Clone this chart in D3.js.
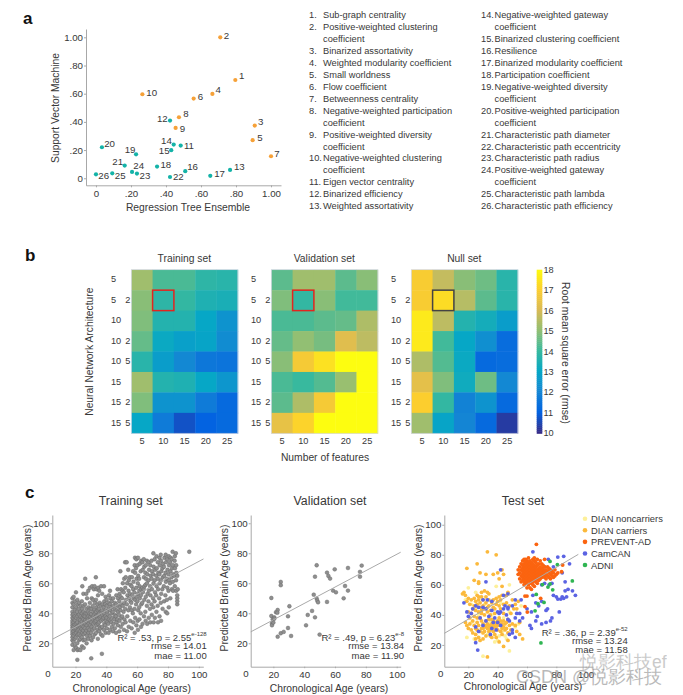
<!DOCTYPE html>
<html><head><meta charset="utf-8">
<script src="https://cdnjs.cloudflare.com/ajax/libs/d3/7.8.5/d3.min.js"></script>
<style>html,body{margin:0;padding:0;background:#fff}svg{display:block}text{font-family:"Liberation Sans",Arial,sans-serif;fill:#383838}</style>
</head><body><svg id="c" width="683" height="695"></svg>
<script>
// ---------- Panel a data
const metricX=[.796,.71,.907,.665,.895,.558,1,.474,.455,.265,.484,.423,.766,.444,.43,.51,.653,.349,.229,.034,.164,.423,.234,.206,.093,0];
const metricY=[.697,1,.374,.598,.27,.565,.156,.433,.357,.596,.232,.409,.059,.239,.199,.05,.017,.083,.17,.22,.09,.009,.033,.045,.035,.028];
const metricGroup=[0,0,0,0,0,0,0,0,0,0,1,1,1,1,1,1,1,1,1,1,1,1,1,1,1,1];
const labelDX=[6.3,6.3,6,5.7,7.3,6.7,6,7,6.7,9.3,8.3,-7.7,9.3,-7.3,-7,7.3,9.3,8.7,-6,7.7,-7,8.3,8,6.7,8,7.7];
const labelDY=[-4.3,-2,-4.3,-4.7,-3,-2,-2.7,-4,1,-2,0,-2,-3.3,-3.7,.3,-4.3,-2.3,-1.7,-4.7,-3.7,-4.3,-.3,2,-6.3,1.7,1.3];
const axisTicksA=[0,.2,.4,.6,.8,1];
const axisTickTextA=["0",".20",".40",".60",".80","1.00"];
const listLeft=[["1.","Sub-graph centrality"],["2.","Positive-weighted clustering","coefficient"],["3.","Binarized assortativity"],["4.","Weighted modularity coefficient"],["5.","Small worldness"],["6.","Flow coefficient"],["7.","Betweenness centrality"],["8.","Negative-weighted participation","coefficient"],["9.","Positive-weighted diversity","coefficient"],["10.","Negative-weighted clustering","coefficient"],["11.","Eigen vector centrality"],["12.","Binarized efficiency"],["13.","Weighted assortativity"]];
const listRight=[["14.","Negative-weighted gateway","coefficient"],["15.","Binarized clustering coefficient"],["16.","Resilience"],["17.","Binarized modularity coefficient"],["18.","Participation coefficient"],["19.","Negative-weighted diversity","coefficient"],["20.","Positive-weighted participation","coefficient"],["21.","Characteristic path diameter"],["22.","Characteristic path eccentricity"],["23.","Characteristic path radius"],["24.","Positive-weighted gateway","coefficient"],["25.","Characteristic path lambda"],["26.","Characteristic path efficiency"]];
// ---------- Panel b data
const features=[5,10,15,20,25];
const layerOne=["5","5","10","10","10","15","15","15"];
const layerTwo=["","2","","2","5","","2","5"];
const rmseTraining=[[15.2,14.2,14.2,13.8,13.7],[14.9,13.8,13.9,13.5,13.4],[14.8,13.6,13.6,13.0,12.4],[14.5,13.1,12.8,12.9,12.2],[13.7,12.7,12.1,11.6,11.5],[15.2,13.6,13.5,13.0,12.5],[14.8,12.4,12.4,11.7,11.2],[13.0,11.7,10.7,11.0,11.2]];
const rmseValidation=[[14.4,15.2,15.2,14.4,14.9],[14.8,13.9,14.9,14.1,14.1],[14.2,14.2,14.4,14.5,15.4],[14.5,15.0,14.7,16.2,15.6],[14.9,16.8,17.4,18,18],[14.2,14.0,14.3,15.1,18],[14.4,15.4,16.8,18,18],[16.4,17.1,18,18,18]];
const rmseNull=[[16.9,15.7,14.9,14.6,13.7],[16.9,17.3,15.5,14.4,13.7],[17.6,15.6,13.6,13.3,12.7],[17.6,14.1,13.0,12.3,11.3],[15.4,14.3,13.1,11.2,11.3],[16.3,14.8,13.2,14.6,12.1],[17.0,13.9,11.9,12.4,11.2],[15.2,12.9,12.0,11.2,10.3]];
const parulaColors=["#352a87","#0363e1","#1485d4","#06a7c6","#38b99e","#92bf73","#d9ba56","#fcce2e","#fdfd10"];
const rmseTicks=[10,11,12,13,14,15,16,17,18];
// ---------- Panel c data
const ageTicks=[20,40,60,80,100];
const trainPoints=[[18,19],[18,22],[18,24],[18,26],[18,27.5],[18,29],[18,30.5],[18,32],[18,33.5],[18,35],[18,37],[18,39],[18,41],[18,44],[18,47],[18,50],
[18.8,15.5],[18.8,21],[18.8,25],[18.8,28],[18.8,31],[18.8,34],[18.8,36.5],[18.8,39.5],[18.8,46],[18.8,51],
[19.6,18],[19.6,23],[19.6,26.5],[19.6,29.5],[19.6,32.5],[19.6,35.5],[19.6,38],[19.6,42.5],[19.6,48],
[20.4,17],[20.3,24],[20.5,27],[20.2,30],[20.6,33],[20.4,37],[20.2,40],[20.5,44],[20.3,54],
[21.2,9],[21.3,15.5],[21.1,20],[21.4,25.5],[21.2,28.5],[21.5,31.5],[21.2,34],[21.3,38],[21.1,41],[21.4,46],[21.2,49],
[22.1,16],[22.3,22],[22.2,26],[22,29],[22.4,32],[22.1,36],[22.3,39],[22.2,43],[22.4,47],
[23.2,15.5],[23,23],[23.3,25],[23.1,28],[23.4,30.5],[23.2,33.5],[23,35.5],[23.3,38],[23.1,41],[23.4,45],
[24.2,18],[24.1,24],[24.4,27],[24,29.5],[24.3,32],[24.1,34.5],[24.5,37],[24.2,40],[24.3,43],[24.1,48],[24.4,58],
[25.3,17],[25.1,22],[25.4,26],[25,28.5],[25.2,31],[25.5,33.5],[25.1,36],[25.4,38.5],[25.2,41],[25.3,45],[25.1,53],
[26.2,22.5],[26.4,27],[26.1,30],[26.5,33],[26.3,35.5],[26.1,38],[26.4,40],[26.2,46],[26.3,63],
[27.2,20],[27.5,25],[27.1,28.5],[27.4,32],[27.2,34.5],[27.6,37],[27.3,40],[27.1,43],[27.5,50],[27,53],
[28.3,23],[28.5,27],[28.1,30],[28.6,33],[28.2,36],[28.4,38],[28.2,41],[28.5,44],[28.3,55],
[29.4,25],[29.1,29],[29.6,32],[29.3,35],[29.5,37.5],[29.2,40],[29.6,43],[29.3,47],[29.4,57],
[30.2,10],[30.4,22],[30.1,27],[30.5,31],[30.3,34],[30.6,37],[30.2,39.5],[30.4,43],[30.5,50],[30.8,58],
[31.4,24],[31.1,29],[31.6,33],[31.3,36],[31.7,38],[31.5,41],[31.2,45],[31.4,49],[31.9,56],
[32.5,26],[32.2,30],[32.7,34],[32.4,37],[32.8,40],[32.3,42.5],[32.6,47],[32.4,58],
[33.3,27],[33.6,32],[33.2,35],[33.7,38],[33.4,41],[33.6,44],[33.3,49],[33.2,64],[33.7,56],
[34.5,23],[34.3,29],[34.7,33],[34.4,36],[34.8,39],[34.5,42],[34.3,46],[34.6,52],[34.8,57],
[35.4,28],[35.7,31],[35.3,34],[35.8,37],[35.5,40],[35.2,43],[35.7,47],[35.4,55],
[36.5,26],[36.2,30],[36.7,35],[36.4,38],[36.8,41],[36.3,45],[36.6,58],
[37.1,13],[37.5,25],[37.3,31],[37.7,36],[37.4,39],[37.2,42],[37.6,46],[37.3,53],
[38.4,29],[38.7,33],[38.2,37],[38.6,40],[38.3,44],[38.7,48],[38.5,58],
[39.5,27],[39.2,32],[39.7,35],[39.4,38],[39.6,42],[39.3,46],[39.5,51],
[40.3,30],[40.6,34],[40.2,37],[40.7,41],[40.4,45],[40.2,49],
[41.5,27],[41.3,33],[41.7,36],[41.2,39],[41.6,43],[41.4,47],[41.7,52],
[42.4,29],[42.7,35],[42.2,38],[42.6,42],[42.3,46],[42.7,50],[42.4,55],
[43.6,31],[43.3,34],[43.7,40],[43.2,44],[43.5,48],
[44.3,28],[44.7,33],[44.4,37],[44.2,41],[44.6,45],[44.4,50],
[45.5,30],[45.3,36],[45.7,39],[45.4,43],[45.6,47],
[46.3,27],[46.6,34],[46.2,38],[46.7,42],[46.4,46],[46.5,52],
[47.5,32],[47.2,36],[47.7,41],[47.3,45],[47.6,50],[47.3,56],
[48.4,28],[48.6,35],[48.2,39],[48.7,44],[48.4,48],[48.6,53],
[49.1,68],[49.4,31],[49.6,37],[49.2,42],[49.7,46],[49.3,51],[49.5,56],
[50.6,33],[50.3,38],[50.7,45],[50.2,50],[50.5,55],[50.7,60],
[51.4,29],[51.7,36],[51.2,41],[51.6,47],[51.3,54],[51.6,63],
[52.5,34],[52.2,43],[52.7,49],[52.3,57],[52.6,64],[52.2,74],
[53.4,28],[53.6,38],[53.3,46],[53.7,52],[53.5,60],[53.2,74],
[54.5,31],[54.3,42],[54.7,50],[54.4,55],[54.6,62],[54.2,69],
[55.5,35],[55.3,44],[55.7,48],[55.4,53],[55.6,59],[55.3,64],
[56.4,30],[56.6,42],[56.2,47],[56.7,52],[56.4,58],[56.6,64],
[57.5,34],[57.2,40],[57.7,50],[57.4,56],[57.6,61],[57.3,68],
[58.4,27],[58.7,37],[58.3,43],[58.6,49],[58.2,54],[58.7,67],[58.4,72],[58.6,77],
[59.5,32],[59.3,46],[59.7,51],[59.4,57],[59.6,63],[59.2,70],[59.5,76],
[60.5,29],[60.3,35],[60.7,42],[60.2,48],[60.6,53],[60.4,60],[60.7,65],[60.3,72],[60.5,77],
[61.5,36],[61.3,44],[61.7,50],[61.4,55],[61.6,58],[61.3,63],[61.7,73],
[62.5,31],[62.3,40],[62.7,46],[62.4,52],[62.6,56],[62.3,68],[62.6,75],
[63.5,33],[63.3,47],[63.7,54],[63.4,57],[63.6,69],[63.4,74],
[64.4,38],[64.6,49],[64.3,56],[64.7,58],[64.4,64],[64.6,71],[64.3,76],
[65.5,35],[65.3,41],[65.6,51],[65.4,59],[65.7,63],[65.3,67],[65.6,72],
[66.5,33],[66.3,45],[66.7,53],[66.4,60],[66.6,66],[66.3,75],
[67.5,37],[67.3,48],[67.6,55],[67.4,62],[67.7,69],[67.4,74],
[68.5,34],[68.3,43],[68.6,52],[68.4,58],[68.7,65],[68.5,72],
[69.5,39],[69.3,46],[69.6,56],[69.4,63],[69.6,68],[69.3,75],
[70.7,34],[70.5,44],[70.3,50],[70.6,60],[70.4,66],[70.7,71],[70.5,80],
[71.5,37],[71.3,48],[71.6,54],[71.4,62],[71.7,69],[71.3,76],
[72.5,41],[72.3,52],[72.6,58],[72.4,65],[72.7,70],[72.5,78],
[73.5,34],[73.3,45],[73.6,56],[73.4,63],[73.7,67],[73.4,74],
[74.5,38],[74.3,50],[74.6,60],[74.4,66],[74.7,72],[74.5,77],
[75.5,35],[75.3,47],[75.6,53],[75.4,62],[75.7,68],[75.5,75],[75.3,79],
[76.5,43],[76.3,56],[76.6,64],[76.4,70],[76.7,73],
[77.5,48],[77.3,58],[77.6,65],[77.4,71],[77.7,77],
[78.5,41],[78.3,52],[78.6,61],[78.4,67],[78.7,74],[78.5,79],
[79.5,40],[79.3,49],[79.6,57],[79.4,63],[79.7,69],[79.5,76],
[80.5,44],[80.3,55],[80.6,62],[80.4,66],[80.7,72],[80.5,78],
[81.5,50],[81.3,60],[81.6,68],[81.4,74],[81.7,77],
[82.5,56],[82.3,64],[82.6,70],[82.4,76],
[83.3,55],[83.1,61],[83.4,66],[83.2,72],[83,81],
[84.4,58],[84.2,65],[84.5,70],[84.3,75],[84.4,78],
[85.3,55],[85.2,62],[85.4,67],[85.3,72],[85.1,80],
[86,46],[86,48],[86,50],[86,52],[86.3,56],[86,65],[93.8,81]];
const validationPoints=[[18.7,50.2],[18.7,38.2],[19.6,36],[20.6,37.3],[20.6,36.4],[19.1,33.3],[19.1,32],[20,33.8],[21.7,40.7],[22.8,42.2],[22.6,40.4],[24.8,60.9],[24.8,58.7],[30.4,44.7],[29.5,38],[29.5,30.2],[24.8,26.7],[26.7,27.6],[22.8,24.4],[31.5,24.9],[41.2,32],[42.3,38.9],[45.1,41.6],[47,37.3],[46.2,52.4],[48.1,49.8],[48.5,48.4],[49,47.3],[47,64.4],[48.1,72],[54.8,67.1],[55.7,64.9],[56.8,63.1],[54.8,47.6],[58.7,55.1],[60.6,54],[59.8,69.3],[65.6,50],[66.5,58.2],[68.4,55.1],[68.4,70.2],[76.2,64.4],[76.2,67.6],[77.3,71.8],[50,25.8]];
const noncarriers=[[30,12.5],[48,16],[24,24],[19,25],[48,60],[39,59],[20,58],[26,45],[22,47],[28,52],[36,40],[44,38],[38,22],[40,23],[46,24],[45,26],[52,32],[54,34],[56,46],[48,42],[43,29],[22,35],[27,40],[33,27],[41,26],[18,50],[25,55],[31,47],[42,48],[35,35]];
const carriers=[[33,82],[39,80],[26,74],[19,71],[43,70],[28,68],[32,67],[37,67],[40,68],[44,67],[41,64],[24,63],[27,62],[27,61],[43,59],[46,53],[47,55],[43,53],[31,56],[29,55],[33,55],[34,54],[17,55],[16,54],[18,53],[26,53],[27,52],[29,52],[32,52],[19,49],[20,51],[21,47],[22,50],[23,44],[24,46],[24,51],[25,49],[25,43],[26,47],[27,42],[27,50],[28,45],[28,48],[29,41],[29,43],[30,46],[30,50],[31,44],[31,40],[32,48],[33,45],[33,42],[34,50],[34,46],[35,43],[36,48],[37,50],[37,45],[38,44],[39,47],[39,51],[40,49],[41,52],[41,46],[42,50],[42,44],[44,47],[46,48],[50,50],[52,47],[53,44],[48,46],[20,42],[21,38],[22,41],[23,36],[24,39],[18,35],[19,33],[20,31],[21,34],[22,30],[23,28],[24,33],[25,31],[25,27],[26,35],[26,30],[27,25],[27,33],[28,29],[29,36],[29,31],[30,34],[30,28],[30,31],[31,33],[31,29],[32,36],[32,32],[32,26],[33,34],[33,31],[34,33],[34,29],[34,37],[35,32],[35,30],[35,26],[36,34],[36,31],[36,37],[37,33],[37,29],[37,36],[38,32],[38,27],[38,35],[39,34],[39,31],[39,25],[40,33],[40,30],[40,36],[41,34],[41,38],[42,33],[42,29],[42,36],[43,34],[43,31],[43,27],[44,36],[44,32],[45,34],[45,30],[46,35],[46,31],[47,37],[47,28],[48,33],[49,30],[50,34],[52,33],[53,29],[55,35],[33,12],[44,19],[41,22],[28,23],[25,24],[30,24],[36,25],[47,23],[55,27],[57,24],[54,49],[51,44],[49,41],[35,40],[38,41],[44,41],[26,38],[28,38]];
const prevent=[[54,67],[54,70],[55,64],[55,68],[55,72],[56,62],[56,66],[56,70],[56,74],[57,63],[57,65],[57,67],[57,69],[57,71],[57,73],[57,76],[58,60],[58,62],[58,64],[58,66],[58,68],[58,70],[58,72],[58,74],[58,77],[59,61],[59,63],[59,65],[59,67],[59,69],[59,71],[59,73],[59,75],[60,58],[60,62],[60,64],[60,66],[60,68],[60,70],[60,72],[60,74],[60,76],[61,60],[61,63],[61,65],[61,67],[61,69],[61,71],[61,73],[61,75],[61,78],[62,58],[62,62],[62,64],[62,66],[62,68],[62,70],[62,72],[62,74],[62,76],[63,57],[63,61],[63,63],[63,65],[63,67],[63,69],[63,71],[63,73],[63,75],[64,60],[64,62],[64,64],[64,66],[64,68],[64,70],[64,72],[64,74],[64,77],[65,59],[65,63],[65,65],[65,67],[65,69],[65,71],[65,73],[65,76],[66,62],[66,64],[66,66],[66,68],[66,70],[66,72],[66,75],[67,61],[67,64],[67,66],[67,68],[67,70],[67,73],[67,77],[68,63],[68,65],[68,67],[68,69],[68,71],[68,74],[69,64],[69,66],[69,68],[69,70],[69,72],[69,76],[70,65],[70,67],[70,69],[70,71],[70,74],[71,66],[71,68],[71,70],[71,73],[72,65],[72,67],[72,69],[72,72],[72,77],[73,64],[73,67],[73,70],[74,66],[74,69],[74,72],[75,65],[75,68],[75,71],[76,64],[76,67],[76,70],[77,66],[77,69],[78,65],[78,68],[79,66],[79,70],[80,67],[81,68],[83.6,68.7],[84.3,73.2],[58.6,45.5],[60.2,41.9],[69.3,51],[58.6,52.5],[60,52.5],[66.4,87],[59,77],[65,78]];
const camcan=[[64,82],[81,78.5],[85,79],[89,74],[74.5,77],[32,62],[42,70],[17,48],[26.4,16.6],[25,21.5],[72,72],[78,72],[84,68],[70,60],[72,61],[86,62],[77,61],[88,57],[91,56],[86,56],[93,53],[84,52],[78,53],[80,52],[81,50.5],[83,50.5],[85,51],[87,52],[75,60],[64,53],[66,48],[68,46],[70,49],[73,43],[74,44],[77,38],[76,36],[70,34],[67,39],[66,36],[73,35],[63,31],[82,42],[60,44],[63,42],[62,33],[56,50],[57,38],[55,36],[48,27],[50,28],[52,25],[52,38],[50,46],[52,50],[47,44],[46,40],[47,45],[44,53],[47,54],[48,36],[42,42],[40,42],[36,49],[33,50],[30,50],[32,44],[36,43],[30,45],[27,45],[25,46],[23,44],[22,41],[19,42],[20,39],[28,38],[32,36],[34,39],[38,38],[37,35],[40,35],[42,33],[39,30],[36,31],[25,32],[27,29],[30,33],[41,41],[45,46],[50,30],[53,41],[55,41],[44,44],[35,27],[47,37]];
const adni=[[75.7,75.6],[80.7,73.4],[90.9,62.6],[75.7,60.6],[70.5,60.2],[74.3,58.5],[77.5,56.7],[66.3,53.6],[67.5,47.4],[71.6,48.3],[65.5,42.7],[69.5,21.3]];
const legendNames=["DIAN noncarriers","DIAN carriers","PREVENT-AD","CamCAN","ADNI"];

const svg=d3.select("#c");
const txt=(g,x,y,s,size,anchor,extra)=>{const t=g.append("text").attr("x",x).attr("y",y).attr("font-size",size).attr("text-anchor",anchor||"start").attr("dominant-baseline","central").text(s);if(extra)extra(t);return t;};
const rotText=(x,y,s,size,deg)=>svg.append("text").attr("transform",`translate(${x},${y}) rotate(${deg})`).attr("font-size",size).attr("text-anchor","middle").attr("dominant-baseline","central").text(s);
const bold=t=>t.attr("font-weight","bold").style("fill","#111");
txt(svg,23,18,"a",17,"start",bold);
txt(svg,25,255.5,"b",17,"start",bold);
txt(svg,25,492,"c",17,"start",bold);
const styleAxis=g=>{g.selectAll("path,line").attr("stroke","#a8a8a8").attr("stroke-width",1);g.selectAll("text").attr("font-size",9.7).attr("font-family","Liberation Sans").style("fill","#383838");};

// ---------- Panel a
{
 const x=d3.scaleLinear().domain([-.057,1.057]).range([86,281]);
 const y=d3.scaleLinear().domain([-.05,1.059]).range([185.3,29]);
 const colors=["#f6a138","#14b3a8"];
 svg.append("g").attr("transform","translate(0,185.3)").call(d3.axisBottom(x).tickValues(axisTicksA).tickFormat((d,i)=>axisTickTextA[i]).tickSize(2).tickSizeOuter(0).tickPadding(3)).call(styleAxis);
 svg.append("g").attr("transform","translate(86,0)").call(d3.axisLeft(y).tickValues(axisTicksA).tickFormat((d,i)=>axisTickTextA[i]).tickSize(2).tickSizeOuter(0).tickPadding(1)).call(styleAxis);
 metricX.forEach((v,i)=>{
  svg.append("circle").attr("cx",x(v)).attr("cy",y(metricY[i])).attr("r",2.1).attr("fill",colors[metricGroup[i]]);
  txt(svg,x(v)+labelDX[i],y(metricY[i])+labelDY[i],String(i+1),9.7,"middle");
 });
 txt(svg,188,207.7,"Regression Tree Ensemble",10.3,"middle");
 rotText(55.5,108,"Support Vector Machine",10.3,-90);
}
// ---------- Metric list
const rowY=d3.scaleLinear().domain([0,16]).range([15,206.3]);
function drawList(items,xn,xt){
 let r=0;
 items.forEach(it=>{
  txt(svg,xn,rowY(r),it[0],9.25);
  it.slice(1).forEach(line=>{txt(svg,xt,rowY(r),line,9.25);r++;});
 });
}
drawList(listLeft,309,323);
drawList(listRight,481,494.5);

// ---------- Panel b
const parula=d3.scaleLinear().domain(rmseTicks).range(parulaColors).interpolate(d3.interpolateRgb);
function heat(x0,title,vals,labelX0,boxColor){
 const x=d3.scaleBand().domain(features).range([x0,x0+106.5]);
 const y=d3.scaleBand().domain(d3.range(8)).range([269.7,433.3]);
 vals.forEach((row,r)=>row.forEach((v,c)=>{
  svg.append("rect").attr("x",x(features[c])).attr("y",y(r)).attr("width",x.bandwidth()+.4).attr("height",y.bandwidth()+.4).attr("fill",parula(v));
 }));
 svg.append("rect").attr("x",x0).attr("y",269.7).attr("width",106.5).attr("height",163.6).attr("fill","none").attr("stroke","#d5d8e4").attr("stroke-width",.7);
 svg.append("rect").attr("x",x(10)).attr("y",y(1)).attr("width",x.bandwidth()).attr("height",y.bandwidth()).attr("fill","none").attr("stroke",boxColor).attr("stroke-width",1.5);
 txt(svg,x0+53,258.5,title,10.3,"middle");
 features.forEach(f=>txt(svg,x(f)+x.bandwidth()/2,440.7,String(f),9.2,"middle"));
 layerOne.forEach((s,r)=>{
  txt(svg,labelX0,y(r)+y.bandwidth()/2-.5,s,9.2);
  if(layerTwo[r])txt(svg,x0-6,y(r)+y.bandwidth()/2-.5,layerTwo[r],9.2);
 });
}
heat(131.3,"Training set",rmseTraining,111,"#e3241f");
heat(271.3,"Validation set",rmseValidation,251,"#e3241f");
heat(411.3,"Null set",rmseNull,391,"#444444");
rotText(89.5,351.7,"Neural Network Architecture",10.3,-90);
txt(svg,325,457,"Number of features",10.3,"middle");
{
 const cy=d3.scaleLinear().domain([10,18]).range([433.3,269.7]);
 d3.range(10,18,0.1).forEach(v=>svg.append("rect").attr("x",536.7).attr("y",cy(v+.1)).attr("width",5.6).attr("height",cy(v)-cy(v+.1)+.5).attr("fill",parula(v)));
 rmseTicks.forEach(t=>txt(svg,543.5,cy(t),String(t),9.2));
 rotText(565,353,"Root mean square error (rmse)",10.3,90);
}

// ---------- Panel c
function scatter(o){
 const x=d3.scaleLinear().domain(o.xd).range(o.xr);
 const y=d3.scaleLinear().domain(o.yd).range([666.7,515]);
 svg.append("g").attr("transform","translate(0,666.7)").call(d3.axisBottom(x).tickValues(ageTicks).tickSize(1.5).tickSizeOuter(0).tickPadding(3)).call(styleAxis);
 svg.append("g").attr("transform",`translate(${o.xr[0]},0)`).call(d3.axisLeft(y).tickValues(ageTicks).tickSize(2).tickSizeOuter(0).tickPadding(1)).call(styleAxis);
 txt(svg,o.zeroX,673,"0",9.7,"middle");
 o.draw(x,y);
 svg.append("line").attr("x1",x(o.lx[0])).attr("y1",y(o.ly[0])).attr("x2",x(o.lx[1])).attr("y2",y(o.ly[1])).attr("stroke","#a9a9a9").attr("stroke-width",1);
 txt(svg,o.titleX,501,o.title,12.3,"middle");
 txt(svg,o.labelX,o.labelY,"Chronological Age (years)",10.3,"middle");
 rotText(o.ylabX,588,"Predicted Brain Age (years)",10.4,-90);
 const t=txt(svg,o.annX,o.annY[0],"",9.5,"end");
 t.append("tspan").text(o.ann[0]);t.append("tspan").attr("font-size",6).attr("dy",-3).text(o.ann[1]);
 txt(svg,o.annX,o.annY[1],o.ann[2],9.5,"end");
 txt(svg,o.annX,o.annY[2],o.ann[3],9.5,"end");
}
const greyDot=(x,y,a,b)=>svg.append("circle").attr("cx",x(a)).attr("cy",y(b)).attr("r",1.9).attr("fill","#8f8f8f").attr("stroke","#666").attr("stroke-width",.45);
scatter({xd:[4.95,102.9],xr:[52.3,203.3],yd:[4.4,105.5],zeroX:48,title:"Training set",titleX:130.7,labelX:131.7,labelY:688,ylabX:27,
 lx:[5,103],ly:[22.7,76.2],annX:206.7,annY:[636.7,645.7,655],ann:["R² = .53, p = 2.55","e-128","rmse = 14.01","mae = 11.00"],
 draw:(x,y)=>trainPoints.forEach(p=>greyDot(x,y,p[0],p[1]))});
scatter({xd:[5.3,102.6],xr:[250.7,400.7],yd:[4.4,105.5],zeroX:246,title:"Validation set",titleX:330,labelX:329,labelY:688,ylabX:224,
 lx:[5.3,102.6],ly:[27.6,80.7],annX:404,annY:[636.7,645.7,655],ann:["R² = .49, p = 6.23","e-8","rmse = 13.84","mae = 11.90"],
 draw:(x,y)=>validationPoints.forEach(p=>greyDot(x,y,p[0],p[1]))});
const legendColors=["#fdf09a","#fbb93c","#fb6410","#5b63e3","#2fb552"];
scatter({xd:[3.6,105],xr:[444.3,593],yd:[5.5,106.5],zeroX:440.7,title:"Test set",titleX:523,labelX:523,labelY:686,ylabX:418,
 lx:[3.6,95],ly:[27.7,80.3],annX:627.7,annY:[631.7,640.3,649.7],ann:["R² = .36, p = 2.39","e-52","rmse = 13.24","mae = 11.58"],
 draw:(x,y)=>{
  [[noncarriers,0],[carriers,1],[camcan,3],[adni,4],[prevent,2]].forEach(([arr,c])=>arr.forEach(p=>svg.append("circle").attr("cx",x(p[0])).attr("cy",y(p[1])).attr("r",1.9).attr("fill",legendColors[c])));
 }});
legendNames.forEach((n,i)=>{
 const ly=d3.scaleLinear().domain([0,4]).range([518.7,565])(i);
 svg.append("circle").attr("cx",585).attr("cy",ly).attr("r",2.3).attr("fill",legendColors[i]);
 txt(svg,591,ly,n,9.4);
});
// Watermark overlay visible in the source image
svg.append("text").attr("x",580).attr("y",668).attr("font-size",17.5).attr("font-family","Noto Sans CJK SC").style("fill","#a0a0a0").attr("opacity",.55).text("悦影科技ef");
svg.append("text").attr("x",516).attr("y",683).attr("font-size",18).attr("font-family","Noto Sans CJK SC").style("fill","#8c8c8c").attr("opacity",.6).text("CSDN @悦影科技");
</script></body></html>
